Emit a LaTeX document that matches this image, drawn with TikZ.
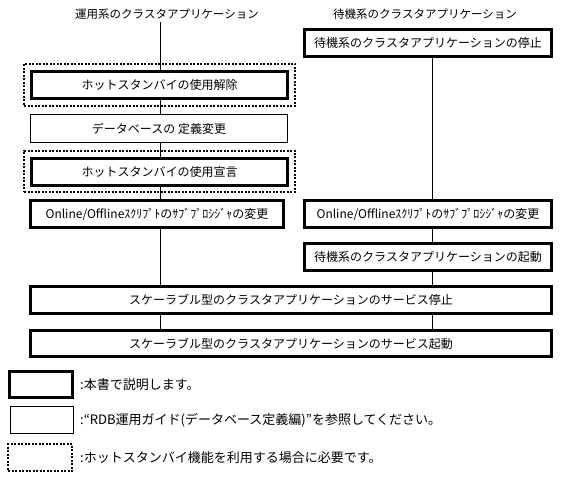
\documentclass[tikz,border=0pt]{standalone}
\usepackage{fontspec}
\setmainfont{Noto Sans CJK JP}
\begin{document}
\begin{tikzpicture}[x=1pt,y=-1pt,
  every node/.style={font=\fontsize{12}{14}\selectfont, inner sep=0pt},
  titletext/.style={font=\fontsize{11.5}{13}\selectfont},
  legendtext/.style={font=\fontsize{13}{15}\selectfont, anchor=west},
  thickbox/.style={draw, line width=3pt, fill=white, rectangle},
  thinbox/.style={draw, line width=1pt, fill=white, rectangle},
  dotbox/.style={draw, line width=2pt, dash pattern=on 2pt off 1.5pt, rectangle},
  conn/.style={line width=1pt}]
\useasboundingbox[fill=white] (0,0) rectangle (576,478);
% titles
\node[titletext] (ltitle) at (167,14) {運用系のクラスタアプリケーション};
\node[titletext] (rtitle) at (425,14) {待機系のクラスタアプリケーション};
\coordinate (lx) at (160,22);
\coordinate (rx) at (432,58);
% left column
\node[thickbox, minimum width=256pt, minimum height=27pt] (hsoff) at (159.5,85) {ホットスタンバイの使用解除};
\node[dotbox, minimum width=271pt, minimum height=42pt] (dot1) at (159.5,85) {};
\node[thinbox, minimum width=257pt, minimum height=28pt] (db) at (159,128.5) {データベースの 定義変更};
\node[thickbox, minimum width=256pt, minimum height=27pt] (hson) at (159.5,172) {ホットスタンバイの使用宣言};
\node[dotbox, minimum width=271pt, minimum height=41pt] (dot2) at (159.5,171.5) {};
\node[thickbox, minimum width=253pt, minimum height=27pt] (onl) at (157,214) {Online/Offlineｽｸﾘﾌﾟﾄのｻﾌﾞﾌﾟﾛｼｼﾞｬの変更};
% right column
\node[thickbox, minimum width=247pt, minimum height=27pt] (rstop) at (428,43) {待機系のクラスタアプリケーションの停止};
\node[thickbox, minimum width=247pt, minimum height=27pt] (onr) at (428,214) {Online/Offlineｽｸﾘﾌﾟﾄのｻﾌﾞﾌﾟﾛｼｼﾞｬの変更};
\node[thickbox, minimum width=247pt, minimum height=27pt] (rstart) at (428,257) {待機系のクラスタアプリケーションの起動};
% bottom
\node[thickbox, minimum width=521pt, minimum height=27pt] (sstop) at (291,300) {スケーラブル型のクラスタアプリケーションのサービス停止};
\node[thickbox, minimum width=521pt, minimum height=26pt] (sstart) at (291,343.5) {スケーラブル型のクラスタアプリケーションのサービス起動};
% connectors (left)
\draw[conn] (lx) -- (lx |- hsoff.north);
\draw[conn] (lx |- hsoff.south) -- (lx |- db.north);
\draw[conn] (lx |- db.south) -- (lx |- hson.north);
\draw[conn] (lx |- hson.south) -- (lx |- onl.north);
\draw[conn] (lx |- onl.south) -- (lx |- sstop.north);
\draw[conn] (lx |- sstop.south) -- (lx |- sstart.north);
% connectors (right)
\draw[conn] (rx |- rstop.south) -- (rx |- onr.north);
\draw[conn] (rx |- onr.south) -- (rx |- rstart.north);
\draw[conn] (rx |- rstart.south) -- (rx |- sstop.north);
\draw[conn] (rx |- sstop.south) -- (rx |- sstart.north);
% legend
\node[thickbox, minimum width=63pt, minimum height=26pt] (lg1) at (41,384.5) {};
\node[thinbox, minimum width=63pt, minimum height=27pt] (lg2) at (42,420) {};
\node[dotbox, minimum width=64pt, minimum height=27pt] (lg3) at (40,457.5) {};
\node[legendtext] (lt1) at (80,385) {:本書で説明します。};
\node[legendtext] (lt2) at (80,420) {:“RDB運用ガイド(データベース定義編)”を参照してください。};
\node[legendtext] (lt3) at (80,458) {:ホットスタンバイ機能を利用する場合に必要です。};
\end{tikzpicture}
\end{document}
